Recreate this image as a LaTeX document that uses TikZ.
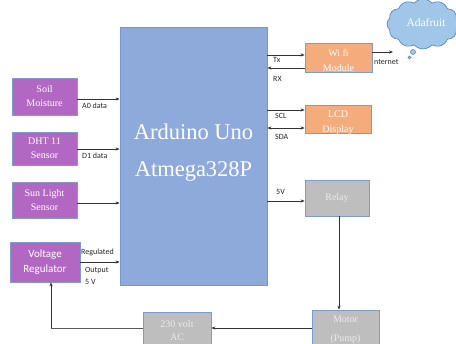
\documentclass[tikz,border=0pt]{standalone}
\usepackage{fontspec}
\setmainfont{Liberation Serif}
\newfontfamily\calib{Carlito}
\usetikzlibrary{arrows.meta,shapes.symbols}
\definecolor{ardfill}{RGB}{142,170,219}
\definecolor{ardline}{RGB}{120,150,205}
\definecolor{vio}{RGB}{178,104,194}
\definecolor{ora}{RGB}{245,172,124}
\definecolor{gry}{RGB}{190,190,190}
\definecolor{bdr}{RGB}{125,155,205}
\definecolor{cloudfill}{RGB}{160,198,232}
\definecolor{cloudline}{RGB}{80,125,195}
\definecolor{gtxt}{RGB}{235,235,235}
\tikzset{
  x=1pt,y=-1pt,
  blk/.style={draw=bdr,line width=0.8pt,rectangle,inner sep=0pt,anchor=center},
  vbox/.style={blk,fill=vio,text=white,font=\fontsize{10}{14}\selectfont,align=center},
  obox/.style={blk,fill=ora},
  gbox/.style={blk,fill=gry},
  lbl/.style={font=\calib\fontsize{8}{9}\selectfont,inner sep=0pt,text=black!85},
  arr/.style={draw=black!80,line width=0.6pt,-{Stealth[length=4pt,width=3.2pt]}},
  darr/.style={draw=black!80,line width=0.6pt,{Stealth[length=4pt,width=3.2pt]}-{Stealth[length=4pt,width=3.2pt]}},
  ln/.style={draw=black!65,line width=0.6pt},
}
\begin{document}
\begin{tikzpicture}
\useasboundingbox (0,0) rectangle (456,344);
% Arduino
\node[blk,draw=ardline,fill=ardfill,minimum width=147,minimum height=258] (ard) at (193.5,156) {};
\node[text=white,font=\fontsize{22.5}{37}\selectfont,align=center] (ardt) at (193.5,153) {Arduino Uno\\Atmega328P};
% left boxes
\node[vbox,minimum width=65,minimum height=37] (soil) at (44.5,96.5) {Soil\\Moisture};
\node[vbox,minimum width=65,minimum height=33] (dht) at (44.5,148.5) {DHT 11\\Sensor};
\node[vbox,minimum width=65,minimum height=36] (sun) at (44.5,200) {Sun Light\\Sensor};
\node[vbox,font=\calib\fontsize{11}{15}\selectfont,minimum width=70,minimum height=40] (vreg) at (45,262) {Voltage\\Regulator};
% right boxes
\node[obox,minimum width=67,minimum height=29] (wifi) at (338.5,57.5) {};
\begin{scope}
\clip (wifi.south west) rectangle (wifi.north east);
\node[text=white,font=\fontsize{10}{15}\selectfont,align=center] (wifit) at (338.5,61) {Wi fi\\Module};
\end{scope}
\node[obox,minimum width=66,minimum height=28] (lcd) at (338,119) {};
\begin{scope}
\clip (lcd.south west) rectangle (lcd.north east);
\node[text=white,font=\fontsize{10}{15}\selectfont,align=center] (lcdt) at (338,123) {LCD\\Display};
\end{scope}
\node[gbox,minimum width=64,minimum height=36,text=gtxt,font=\fontsize{10}{12}\selectfont] (relay) at (337,198) {Relay};
\node[gbox,minimum width=67,minimum height=40] (motor) at (345.5,330) {};
\begin{scope}
\clip (motor.south west) rectangle (motor.north east);
\node[text=gtxt,font=\fontsize{10}{19}\selectfont,align=center] (motort) at (345.5,330) {Motor\\(Pump)};
\end{scope}
\node[gbox,minimum width=68,minimum height=38,text=gtxt,font=\fontsize{10}{13}\selectfont,align=center] (ac) at (177,331) {230 volt\\AC};
% cloud
\node[cloud,cloud puffs=12,cloud puff arc=100,aspect=1.5,draw=cloudline,fill=cloudfill,line width=0.6pt,minimum width=72,minimum height=50,inner sep=0pt] (cl) at (423,24) {};
\node[text=white,font=\fontsize{11.5}{12}\selectfont] (clt) at (426,23) {Adafruit};
\node[circle,draw=cloudline,fill=cloudfill,line width=0.5pt,minimum size=5,inner sep=0pt] (b1) at (413,52) {};
\node[circle,draw=cloudline,fill=cloudfill,line width=0.5pt,minimum size=3,inner sep=0pt] (b2) at (409.5,57.5) {};
% left connectors
\draw[arr] (soil.east |- 0,99) -- (ard.west |- 0,99);
\node[lbl,anchor=west] (l1) at (82,106) {A0 data};
\draw[arr] (dht.east |- 0,149) -- (ard.west |- 0,149);
\node[lbl,anchor=west] (l2) at (82,156) {D1 data};
\draw[arr] (sun.east |- 0,203) -- (ard.west |- 0,203);
\draw[arr] (vreg.east |- 0,262) -- (ard.west |- 0,262);
\node[lbl,anchor=west] (l3) at (81,252) {Regulated};
\node[lbl,anchor=west] (l4) at (85,271) {Output};
\node[lbl,anchor=west] (l5) at (85,282) {5 V};
% right connectors
\draw[arr] (ard.east |- 0,55) -- (wifi.west |- 0,55);
\node[lbl,anchor=west] (l6) at (273,60) {Tx};
\draw[arr] (wifi.west |- 0,68) -- (ard.east |- 0,68);
\node[lbl,anchor=west] (l7) at (273,79) {RX};
\draw[arr] (ard.east |- 0,110) -- (lcd.west |- 0,110);
\node[lbl,anchor=west] (l8) at (275,116) {SCL};
\draw[darr] (ard.east |- 0,128) -- (lcd.west |- 0,128);
\node[lbl,anchor=west] (l9) at (275,137) {SDA};
\draw[arr] (ard.east |- 0,201) -- (relay.west |- 0,201);
\node[lbl,anchor=west] (l10) at (276,192) {5V};
\coordinate (inet) at (393,52);
\draw[arr] (wifi.east |- inet) -- (inet);
\node[lbl,anchor=west] (l11) at (374,62) {nternet};
% bottom connectors
\draw[arr] (relay.south -| 339,0) -- (motor.north -| 339,0);
\draw[arr] (motor.west |- 0,328) -- (ac.east |- 0,328);
\coordinate (corner) at (51,328);
\draw[ln] (ac.west |- corner) -- (corner);
\draw[arr] (corner) -- (vreg.south -| corner);
\end{tikzpicture}
\end{document}
